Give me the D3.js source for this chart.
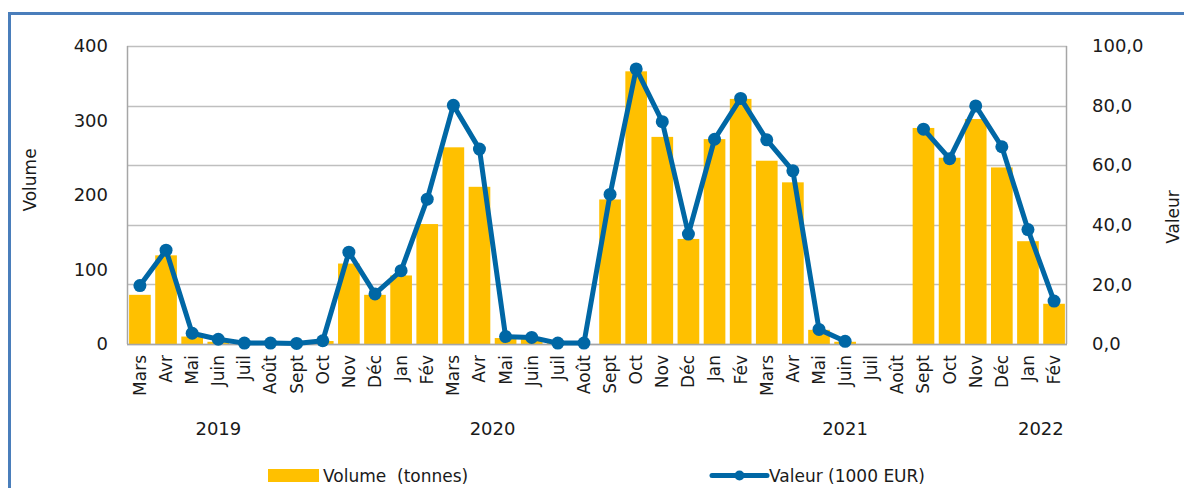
<!DOCTYPE html>
<html>
<head>
<meta charset="utf-8">
<script src="https://cdn.jsdelivr.net/npm/d3@7"></script>
<style>
  body { margin: 0; background: #fff; }
  svg text { font-family: "DejaVu Sans", sans-serif; fill: #1a1a1a; white-space: pre; }
</style>
</head>
<body>
<svg id="drawing_region"></svg>
<script>
// mois (Mars 2019 -> Fév 2022)
const months = ["Mars","Avr","Mai","Juin","Juil","Août","Sept","Oct","Nov","Déc",
                "Jan","Fév","Mars","Avr","Mai","Juin","Juil","Août","Sept","Oct","Nov","Déc",
                "Jan","Fév","Mars","Avr","Mai","Juin","Juil","Août","Sept","Oct","Nov","Déc",
                "Jan","Fév"];
const volume = [66,119,10,3,1,0,0,4,108,66,
                92,161,264,211,8,7,1,0,194,366,278,141,
                275,329,246,217,19,3,0,0,290,250,302,237,
                138,54];
const valeur = [19.6,31.5,3.6,1.6,0.3,0.3,0.2,1.1,30.8,16.8,
                24.6,48.6,80.1,65.4,2.5,2.2,0.3,0.3,50.2,92.3,74.6,36.9,
                68.7,82.4,68.5,58.1,4.9,0.9,null,null,72.1,62.2,79.9,66.2,
                38.4,14.4];
const years = ["2019","2020","2021","2022"];
const leftTicks = [0,100,200,300,400];
const rightTicks = [0,20,40,60,80,100];

// where the year labels sit, in month slots
const yearSlot = [3.5, 14, 27.5, 35];

var config = {
    parent: '#drawing_region',
    width: 1184,
    height: 488,
    margin: {top:46, right:117, bottom:144, left:127}
};

class ComboChart {

    constructor( config ) {
        this.config = config;
        this.init();
    }

    init() {
        let self = this;
        let m = self.config.margin;

        self.svg = d3.select( self.config.parent )
            .attr('width', self.config.width)
            .attr('height', self.config.height);

        self.inner_w = self.config.width - m.left - m.right;
        self.inner_h = self.config.height - m.top - m.bottom;

        self.chart = self.svg.append('g')
            .attr('transform', `translate(${m.left}, ${m.top})`);

        self.xscale = d3.scaleBand()
            .domain( d3.range(months.length) )
            .range([0, self.inner_w])
            .paddingInner(0.17)
            .paddingOuter(0.08);

        self.slot = d3.scaleLinear()
            .domain([0, months.length])
            .range([0, self.inner_w]);

        self.yleft = d3.scaleLinear()
            .domain([0, 400])
            .range([self.inner_h, 0]);

        self.yright = d3.scaleLinear()
            .domain([0, 100])
            .range([self.inner_h, 0]);
    }

    update() {
        let self = this;
        self.render();
    }

    render() {
        let self = this;
        let W = self.inner_w, H = self.inner_h;

        // outer frame
        self.svg.append('path')
            .attr('d', `M9.5,${self.config.height} V13.5 H${self.config.width}`)
            .attr('fill', 'none')
            .attr('stroke', '#4a7ebb')
            .attr('stroke-width', 3);

        // grid (right axis)
        self.chart.selectAll('.grid')
            .data(rightTicks)
            .enter()
            .append('line')
            .attr('x1', 0).attr('x2', W)
            .attr('y1', d => Math.round(self.yright(d)) + 0.5)
            .attr('y2', d => Math.round(self.yright(d)) + 0.5)
            .attr('stroke', '#bfbfbf')
            .attr('stroke-width', 1.5);

        // axis lines
        self.chart.append('line')
            .attr('x1', 0.5).attr('x2', 0.5).attr('y1', 0).attr('y2', H)
            .attr('stroke', '#a6a6a6').attr('stroke-width', 1.5);
        self.chart.append('line')
            .attr('x1', W - 0.5).attr('x2', W - 0.5).attr('y1', 0).attr('y2', H)
            .attr('stroke', '#a6a6a6').attr('stroke-width', 1.5);

        // bars
        self.chart.selectAll('.bar')
            .data(volume)
            .enter()
            .append('rect')
            .attr('x', (d, i) => self.xscale(i))
            .attr('y', d => self.yleft(d))
            .attr('width', self.xscale.bandwidth())
            .attr('height', d => H - self.yleft(d))
            .attr('fill', '#ffc000');

        // bottom axis line over bars
        self.chart.append('line')
            .attr('x1', 0).attr('x2', W).attr('y1', H + 0.5).attr('y2', H + 0.5)
            .attr('stroke', '#a6a6a6').attr('stroke-width', 1.5);

        // line
        const cx = i => self.xscale(i) + self.xscale.bandwidth() / 2;
        const line = d3.line()
            .defined(d => d != null)
            .x((d, i) => cx(i))
            .y(d => self.yright(d));

        self.chart.append('path')
            .datum(valeur)
            .attr('d', line)
            .attr('fill', 'none')
            .attr('stroke', '#0067a5')
            .attr('stroke-width', 5)
            .attr('stroke-linejoin', 'round');

        self.chart.selectAll('.dot')
            .data(valeur.map((v, i) => ({v, i})).filter(d => d.v != null))
            .enter()
            .append('circle')
            .attr('cx', d => cx(d.i))
            .attr('cy', d => self.yright(d.v))
            .attr('r', 6.5)
            .attr('fill', '#0067a5');

        // left axis
        const left_axis = d3.axisLeft(self.yleft)
            .tickValues(leftTicks)
            .tickSize(0)
            .tickPadding(19);
        self.chart.append('g')
            .call(left_axis)
            .call(g => g.select('.domain').remove())
            .selectAll('text')
            .attr('font-size', '18px');

        // right axis
        const right_axis = d3.axisRight(self.yright)
            .tickValues(rightTicks)
            .tickSize(0)
            .tickPadding(25)
            .tickFormat(d => d3.format('.1f')(d).replace('.', ','));
        self.chart.append('g')
            .attr('transform', `translate(${W}, 0)`)
            .call(right_axis)
            .call(g => g.select('.domain').remove())
            .selectAll('text')
            .attr('font-size', '18px');

        // month labels
        self.chart.selectAll('.month')
            .data(months)
            .enter()
            .append('text')
            .attr('transform', (d, i) => `translate(${cx(i)}, ${H + 11}) rotate(-90)`)
            .attr('dy', '0.35em')
            .attr('text-anchor', 'end')
            .attr('font-size', '17px')
            .text(d => d);

        // year labels
        self.chart.selectAll('.year')
            .data(years)
            .enter()
            .append('text')
            .attr('x', (d, i) => self.slot(yearSlot[i]))
            .attr('y', H + 91)
            .attr('text-anchor', 'middle')
            .attr('font-size', '18px')
            .text(d => d);

        // axis titles
        self.svg.append('text')
            .attr('transform', 'translate(36, 180) rotate(-90)')
            .attr('text-anchor', 'middle')
            .attr('font-size', '17px')
            .text('Volume');
        self.svg.append('text')
            .attr('transform', 'translate(1179, 217) rotate(-90)')
            .attr('text-anchor', 'middle')
            .attr('font-size', '17px')
            .text('Valeur');

        // legend
        let lg = self.svg.append('g');
        lg.append('rect')
            .attr('x', 268).attr('y', 469).attr('width', 51).attr('height', 13)
            .attr('fill', '#ffc000');
        lg.append('text')
            .attr('x', 323).attr('y', 482)
            .attr('font-size', '17px')
            .text('Volume  (tonnes)');
        lg.append('line')
            .attr('x1', 712).attr('x2', 767).attr('y1', 475.5).attr('y2', 475.5)
            .attr('stroke', '#0067a5').attr('stroke-width', 5).attr('stroke-linecap', 'round');
        lg.append('circle')
            .attr('cx', 739.5).attr('cy', 475.5).attr('r', 5)
            .attr('fill', '#0067a5');
        lg.append('text')
            .attr('x', 769).attr('y', 482)
            .attr('font-size', '17px')
            .text('Valeur (1000 EUR)');
    }
}

const combo_chart = new ComboChart( config );
combo_chart.update();
</script>
</body>
</html>
